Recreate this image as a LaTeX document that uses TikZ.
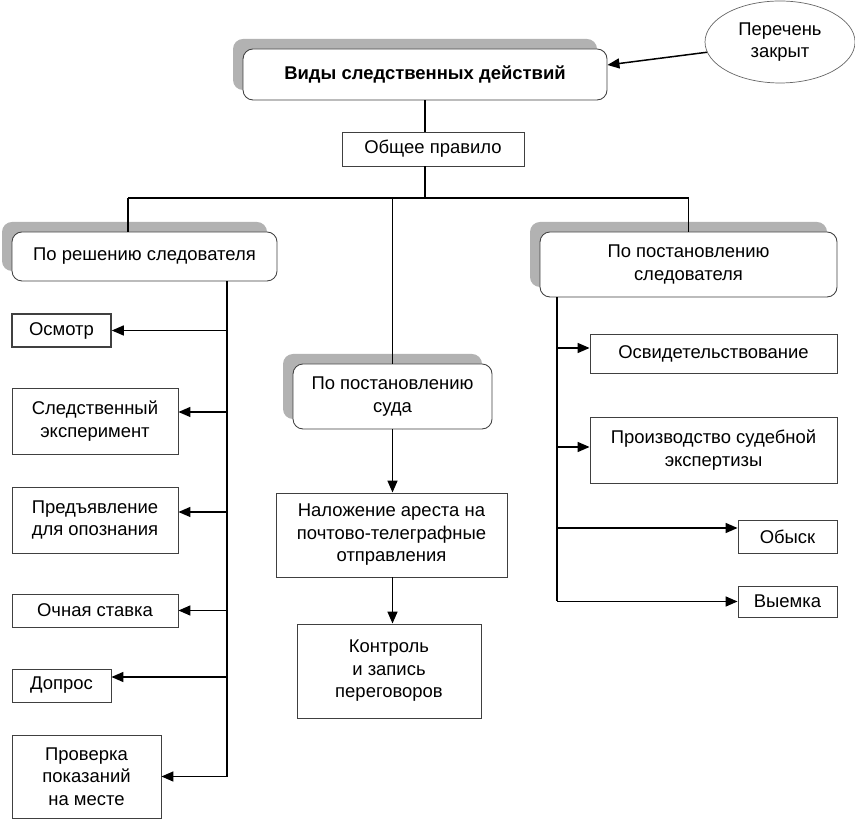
\documentclass[tikz,border=0pt]{standalone}
\usepackage{fontspec}
\setmainfont{Liberation Sans}
\usetikzlibrary{arrows.meta,shapes,shadows,calc,positioning}

\begin{document}
\begin{tikzpicture}[
    font=\fontsize{10.5}{12.8}\selectfont,
    box/.style={draw=black!75, line width=0.5pt, fill=white, align=center, inner sep=2pt},
    rbox/.style={box, rounded corners=0.2cm, drop shadow={opacity=1, fill=black!30, shadow xshift=-0.2cm, shadow yshift=0.2cm}},
    line/.style={line width=0.85pt},
    arr/.style={line, -{Triangle[length=2.4mm,width=2mm]}}
]

    \useasboundingbox (0,0) rectangle (17.1cm,16.4cm);

    % top level
    \node[rbox, minimum width=7.28cm, minimum height=1.02cm, font=\fontsize{10.5}{12.8}\selectfont\bfseries] (types) at (8.5cm,14.91cm) {Виды следственных действий};
    \node[draw=black!60, ellipse, minimum width=3.0cm, minimum height=1.64cm, align=center] (closed) at (15.6cm,15.56cm) {Перечень\\закрыт};
    \node[box, minimum width=3.64cm, minimum height=0.68cm] (rule) at (8.66cm,13.42cm) {Общее правило};

    % three branches
    \node[rbox, minimum width=5.3cm, minimum height=0.98cm] (inv) at (2.89cm,11.27cm) {По решению следователя};
    \node[rbox, minimum width=3.98cm, minimum height=1.3cm] (court) at (7.85cm,8.47cm) {По постановлению\\суда};
    \node[rbox, minimum width=5.94cm, minimum height=1.3cm] (prosec) at (13.77cm,11.11cm) {По постановлению\\следователя};

    % left column
    \node[box, line width=0.9pt, minimum width=1.98cm, minimum height=0.66cm] (osm) at (1.23cm,9.79cm) {Осмотр};
    \node[box, minimum width=3.32cm, minimum height=1.32cm] (exper) at (1.9cm,7.98cm) {Следственный\\эксперимент};
    \node[box, minimum width=3.32cm, minimum height=1.32cm] (ident) at (1.9cm,6.0cm) {Предъявление\\для опознания};
    \node[box, minimum width=3.32cm, minimum height=0.66cm] (confr) at (1.9cm,4.19cm) {Очная ставка};
    \node[box, minimum width=1.98cm, minimum height=0.66cm] (interr) at (1.23cm,2.69cm) {Допрос};
    \node[box, minimum width=2.98cm, minimum height=1.66cm] (verif) at (1.73cm,0.87cm) {Проверка\\показаний\\на месте};

    % middle column
    \node[box, minimum width=4.62cm, minimum height=1.68cm] (seal) at (7.83cm,5.7cm) {Наложение ареста на\\почтово-телеграфные\\отправления};
    \node[box, minimum width=3.68cm, minimum height=1.88cm] (ctrl) at (7.78cm,2.98cm) {Контроль\\и запись\\переговоров};

    % right column
    \node[box, minimum width=4.94cm, minimum height=0.78cm] (exam) at (14.27cm,9.33cm) {Освидетельствование};
    \node[box, minimum width=4.94cm, minimum height=1.32cm] (expert) at (14.27cm,7.4cm) {Производство судебной\\экспертизы};
    \node[box, minimum width=1.98cm, minimum height=0.66cm] (search) at (15.75cm,5.67cm) {Обыск};
    \node[box, minimum width=1.98cm, minimum height=0.62cm] (seize) at (15.75cm,4.37cm) {Выемка};

    \coordinate (busL) at (2.56cm,12.44cm);
    \coordinate (busR) at (13.78cm,12.44cm);
    \coordinate (trunkL) at (4.54cm,0.88cm);
    \coordinate (trunkR) at (11.14cm,4.4cm);

    % connectors at the top
    \draw[arr] (closed.188) -- ([yshift=0.19cm]types.east);
    \draw[line] (types.south) -- (types.south |- rule.north);
    \draw[line] (types.south |- rule.south) -- (types.south |- busL);
    \draw[line] (busL) -- (busR);
    \draw[line] (busL) -- (busL |- inv.north);
    \draw[line] (court.north) -- (court.north |- busL);
    \draw[line] (prosec.north) -- (prosec.north |- busL);

    % left trunk
    \draw[line] (inv.south -| trunkL) -- (trunkL |- verif.east);
    \draw[arr] (osm.east -| trunkL) -- (osm.east);
    \draw[arr] ([yshift=0.18cm]exper.east -| trunkL) -- ([yshift=0.18cm]exper.east);
    \draw[arr] ([yshift=0.16cm]ident.east -| trunkL) -- ([yshift=0.16cm]ident.east);
    \draw[arr] (confr.east -| trunkL) -- (confr.east);
    \draw[arr] ([yshift=0.17cm]interr.east -| trunkL) -- ([yshift=0.17cm]interr.east);
    \draw[arr] (verif.east -| trunkL) -- (verif.east);

    % middle
    \draw[arr] (court.south) -- (court.south |- seal.north);
    \draw[arr] (court.south |- seal.south) -- (court.south |- ctrl.north);

    % right trunk
    \draw[line] (prosec.south -| trunkR) -- (trunkR |- seize.west);
    \draw[arr] ([yshift=0.11cm]exam.west -| trunkR) -- ([yshift=0.11cm]exam.west);
    \draw[arr] ([yshift=0.06cm]expert.west -| trunkR) -- ([yshift=0.06cm]expert.west);
    \draw[arr] ([yshift=0.17cm]search.west -| trunkR) -- ([yshift=0.17cm]search.west);
    \draw[arr] (seize.west -| trunkR) -- (seize.west);

\end{tikzpicture}
\end{document}
